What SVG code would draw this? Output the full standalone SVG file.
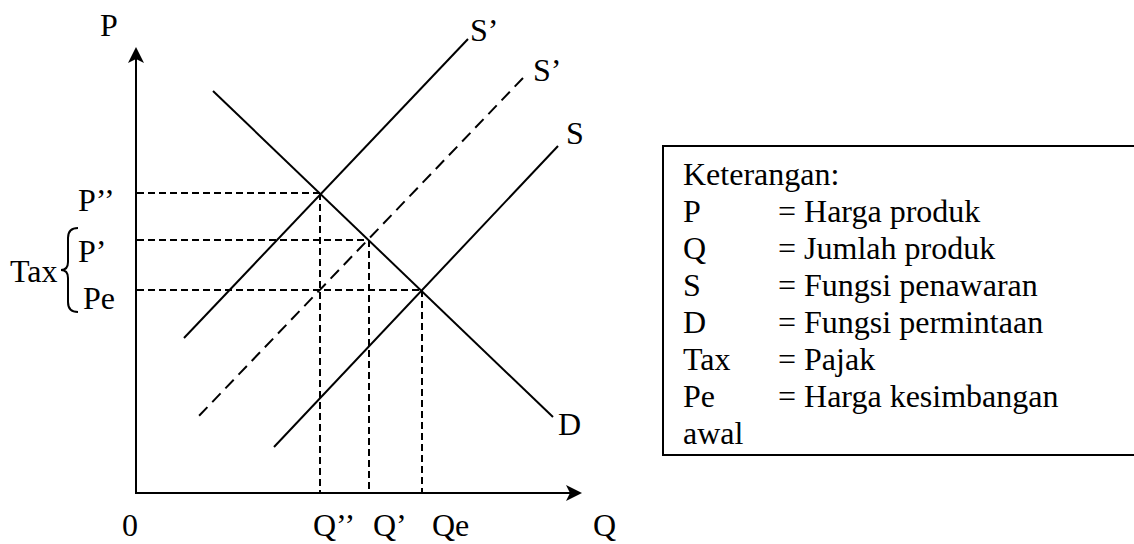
<svg xmlns="http://www.w3.org/2000/svg" width="1134" height="544" viewBox="0 0 1134 544">
<style>
text{font-family:"Liberation Serif","Times New Roman",serif;font-size:32px;fill:#000}
.ln{stroke:#000;stroke-width:2;fill:none}
.gd{stroke:#000;stroke-width:2;fill:none;stroke-dasharray:7 4}
.sd{stroke:#000;stroke-width:2;fill:none;stroke-dasharray:12 7}
.ah{fill:#000;stroke:none}
</style>
<rect width="1134" height="544" fill="#fff"/>
<g id="axes">
<line class="ln" x1="136" y1="493" x2="136" y2="55"/>
<path class="ah" d="M136,47 L144,63 L136,59 L128,63 Z"/>
<line class="ln" x1="135" y1="493" x2="574" y2="493"/>
<path class="ah" d="M582,493 L566,501 L570,493 L566,485 Z"/>
</g>
<g id="connectors">
<line id="guide-P2" class="gd" x1="137" y1="193" x2="320" y2="193"/>
<line id="guide-P1" class="gd" x1="137" y1="240" x2="368" y2="240"/>
<line id="guide-Pe" class="gd" x1="137" y1="290" x2="422" y2="290"/>
<line id="guide-Q2" class="gd" x1="320" y1="193" x2="320" y2="492"/>
<line id="guide-Q1" class="gd" x1="369" y1="240" x2="369" y2="492"/>
<line id="guide-Qe" class="gd" x1="422" y1="290" x2="422" y2="492"/>
</g>
<g id="curve-D"><line class="ln" x1="213" y1="91" x2="553" y2="417"/></g>
<g id="curve-S2"><line class="ln" x1="468" y1="39" x2="184" y2="338"/></g>
<g id="curve-S1"><line class="sd" x1="523" y1="78" x2="197" y2="418"/></g>
<g id="curve-S"><line class="ln" x1="558" y1="146" x2="274" y2="447"/></g>
<g id="labels">
<text x="100" y="36">P</text>
<text x="470" y="41">S’</text>
<text x="533" y="81">S’</text>
<text x="566" y="144">S</text>
<text x="558" y="435">D</text>
<text x="78" y="211">P’’</text>
<text x="78" y="262">P’</text>
<text x="83" y="309">Pe</text>
<text x="10" y="282">Tax</text>
<text x="122" y="536">0</text>
<text x="313" y="536">Q’’</text>
<text x="373" y="536">Q’</text>
<text x="432" y="536">Qe</text>
<text x="593" y="536">Q</text>
</g>
<g id="tax-brace"><path class="ln" stroke-width="1.6" d="M78,228 Q68,228 68,238 L68,262 Q68,270 61,270 Q68,270 68,278 L68,302 Q68,312 78,312"/></g>
<g id="legend">
<rect x="663" y="146" width="480" height="309" fill="none" stroke="#000" stroke-width="2"/>
<text x="683" y="185">Keterangan:</text>
<text x="683" y="222">P</text><text x="778" y="222">= Harga produk</text>
<text x="683" y="259">Q</text><text x="778" y="259">= Jumlah produk</text>
<text x="683" y="296">S</text><text x="778" y="296">= Fungsi penawaran</text>
<text x="683" y="333">D</text><text x="778" y="333">= Fungsi permintaan</text>
<text x="683" y="370">Tax</text><text x="778" y="370">= Pajak</text>
<text x="683" y="407">Pe</text><text x="778" y="407">= Harga kesimbangan</text>
<text x="683" y="444">awal</text>
</g>
</svg>
